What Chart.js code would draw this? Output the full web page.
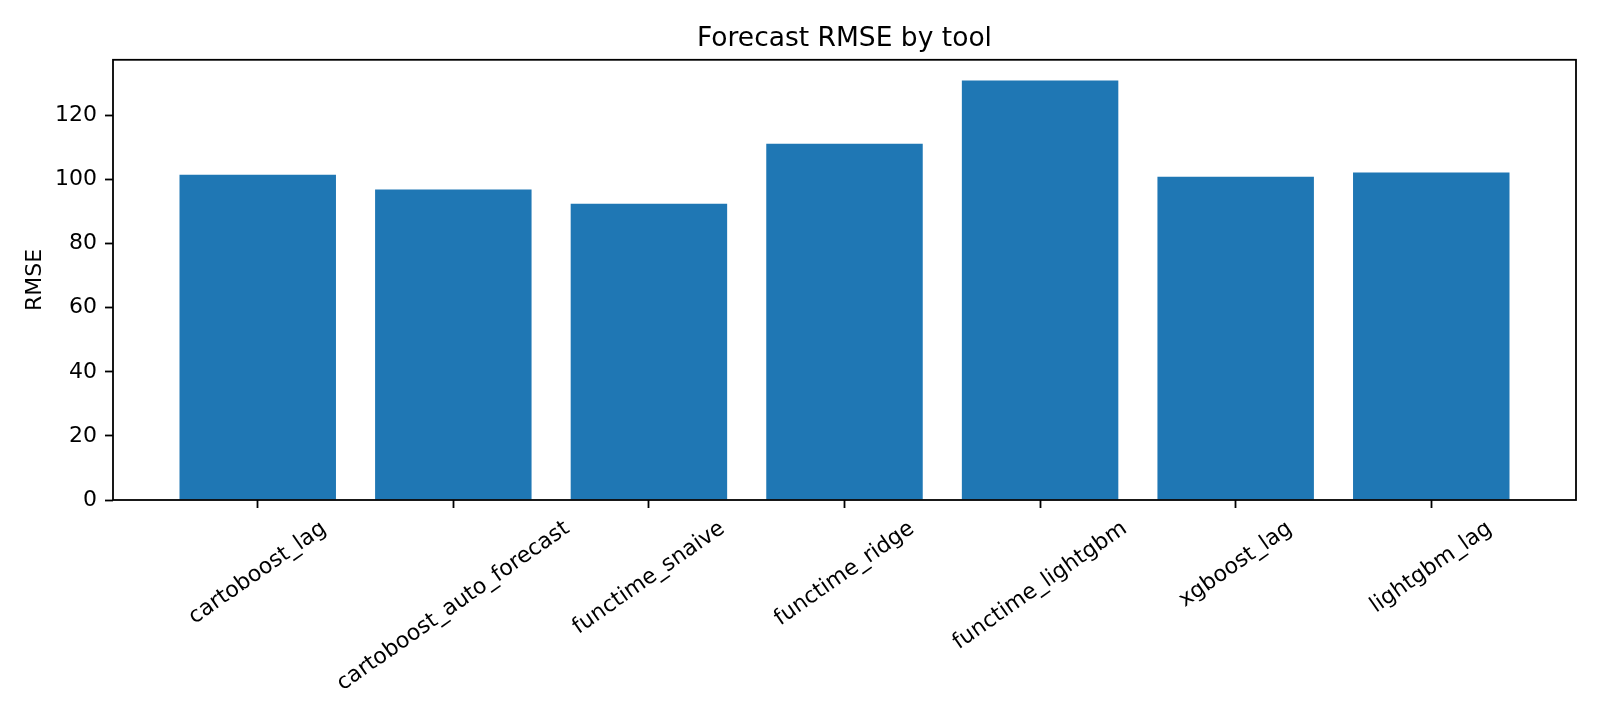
<!DOCTYPE html>
<html>
<head>
<meta charset="utf-8">
<script src="https://cdn.jsdelivr.net/npm/chart.js@4.4.1/dist/chart.umd.min.js"></script>
<style>
  body { margin: 0; background: #fff; }
  #wrap { width: 1600px; height: 720px; }
</style>
</head>
<body>
<div id="wrap"><canvas id="rmse" width="1600" height="720"></canvas></div>
<script>
const tools = ['cartoboost_lag', 'cartoboost_auto_forecast', 'functime_snaive', 'functime_ridge',
    'functime_lightgbm', 'xgboost_lag', 'lightgbm_lag'];
const rmse = [101.5, 96.9, 92.5, 111.2, 130.9, 100.9, 102.2];
const yTicks = [0, 20, 40, 60, 80, 100, 120];
const yMax = 137.4;
const xMin = -0.74, xMax = 6.74;

Chart.defaults.font.family = 'DejaVu Sans';
Chart.defaults.color = '#000';

// white background + box around the plot + rotated, centered tool names
const frame = {
    id: 'frame',
    beforeDraw(chart) {
        const ctx = chart.ctx;
        ctx.save();
        ctx.fillStyle = '#fff';
        ctx.fillRect(0, 0, chart.width, chart.height);
        ctx.restore();
    },
    afterDraw(chart) {
        const ctx = chart.ctx;
        const a = chart.chartArea;
        ctx.save();
        ctx.strokeStyle = '#000';
        ctx.lineWidth = 1.8;
        ctx.strokeRect(a.left, a.top, a.right - a.left, a.bottom - a.top);

        const x = chart.scales.x;
        const ang = 35 * Math.PI / 180;
        const size = 22;
        ctx.font = size + 'px DejaVu Sans';
        ctx.fillStyle = '#000';
        ctx.textAlign = 'center';
        ctx.textBaseline = 'middle';
        tools.forEach((t, i) => {
            const w = ctx.measureText(t).width;
            const h = size * 1.16;
            const H = w * Math.sin(ang) + h * Math.cos(ang);
            const cx = x.getPixelForValue(i);
            const cy = a.bottom + 8 + 8 + H / 2;
            ctx.save();
            ctx.translate(cx, cy);
            ctx.rotate(-ang);
            ctx.fillText(t, 0, 0);
            ctx.restore();
        });
        ctx.restore();
    }
};

new Chart(document.getElementById('rmse'), {
    type: 'bar',
    data: {
        datasets: [{
            label: 'RMSE',
            data: rmse.map((v, i) => ({ x: i, y: v })),
            backgroundColor: '#1f77b4',
            borderWidth: 0,
            categoryPercentage: 0.8,
            barPercentage: 1.0
        }]
    },
    options: {
        responsive: false,
        devicePixelRatio: 1,
        animation: false,
        layout: { padding: { left: 0, right: 24, top: 0, bottom: 0 } },
        plugins: {
            legend: { display: false },
            tooltip: { enabled: false },
            title: {
                display: true,
                fullSize: false,
                text: 'Forecast RMSE by tool',
                color: '#000',
                font: { size: 26.5, weight: 'normal' },
                padding: { top: 23, bottom: 5 }
            }
        },
        scales: {
            x: {
                type: 'linear',
                offset: false,
                min: xMin,
                max: xMax,
                afterBuildTicks: s => { s.ticks = tools.map((t, i) => ({ value: i })); },
                afterFit: s => { s.height = 220; },
                ticks: { display: false },
                grid: {
                    offset: false,
                    drawOnChartArea: false,
                    drawTicks: true,
                    tickLength: 8,
                    tickColor: '#000',
                    tickWidth: 1.8
                },
                border: { display: false }
            },
            y: {
                min: 0,
                max: yMax,
                afterBuildTicks: s => { s.ticks = yTicks.map(v => ({ value: v })); },
                afterFit: s => { s.width = 113; },
                ticks: {
                    color: '#000',
                    font: { size: 22 },
                    padding: 8
                },
                grid: {
                    drawOnChartArea: false,
                    drawTicks: true,
                    tickLength: 8,
                    tickColor: '#000',
                    tickWidth: 1.8
                },
                border: { display: false },
                title: {
                    display: true,
                    text: 'RMSE',
                    color: '#000',
                    font: { size: 22 },
                    padding: { top: 22, bottom: 0 }
                }
            }
        }
    },
    plugins: [frame]
});
</script>
</body>
</html>
